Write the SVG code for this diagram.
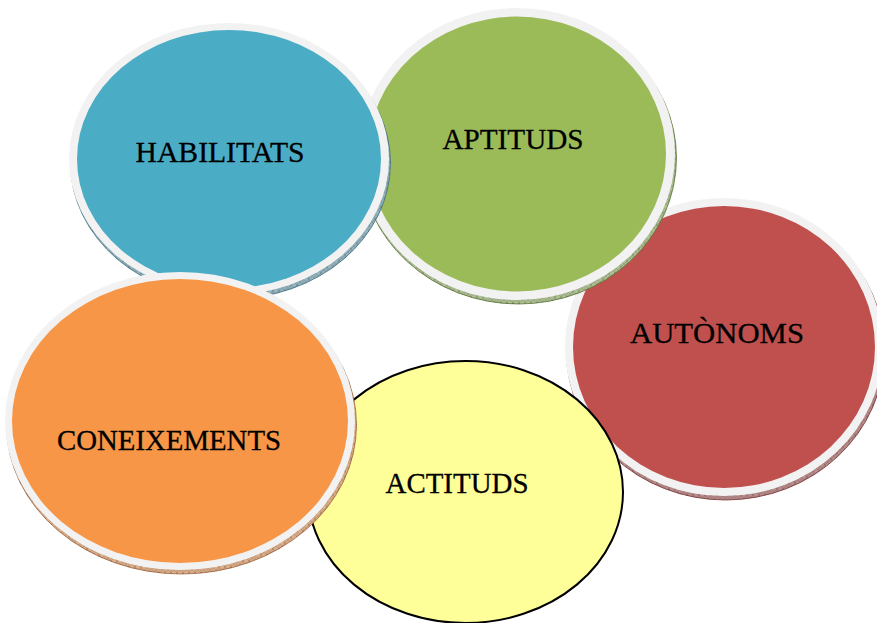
<svg xmlns="http://www.w3.org/2000/svg" width="877" height="623" viewBox="0 0 877 623">
<defs>
<style>
.rim{fill:#F2F2F2}
.lbl{font-family:"Liberation Serif","Times New Roman",serif;font-size:30px;fill:#000;text-anchor:middle;stroke:#000;stroke-width:0.3}
</style>
<pattern id="hatch" width="6" height="6" patternUnits="userSpaceOnUse">
<path d="M0 0 L6 6 M6 0 L0 6 M3 0 V6" stroke="#000" stroke-opacity="0.25" stroke-width="0.5" fill="none"/>
</pattern>
</defs>
<rect width="877" height="623" fill="#fff"/>
<g id="autonoms">
<ellipse cx="725.5" cy="351" rx="159" ry="149" fill="#b88c8b" stroke="#7a2f2d" stroke-width="0.8"/>
<ellipse cx="725.5" cy="351" rx="159" ry="149" fill="url(#hatch)"/>
<ellipse class="rim" cx="724" cy="347" rx="159" ry="149"/>
<ellipse cx="724" cy="347" rx="151" ry="141" fill="#C0504D"/>
<text class="lbl" x="717" y="343" textLength="174" lengthAdjust="spacingAndGlyphs">AUTÒNOMS</text>
</g>
<g id="aptituds">
<ellipse cx="518.5" cy="158" rx="158" ry="146" fill="#aebf93" stroke="#5b7332" stroke-width="0.8"/>
<ellipse cx="518.5" cy="158" rx="158" ry="146" fill="url(#hatch)"/>
<ellipse class="rim" cx="517" cy="154" rx="158" ry="146"/>
<ellipse cx="517" cy="154" rx="149" ry="137.5" fill="#9BBB59"/>
<text class="lbl" x="513" y="149" textLength="141" lengthAdjust="spacingAndGlyphs">APTITUDS</text>
</g>
<g id="habilitats">
<ellipse cx="230.5" cy="163" rx="160" ry="136" fill="#93b4bf" stroke="#3d6f7f" stroke-width="0.8"/>
<ellipse cx="230.5" cy="163" rx="160" ry="136" fill="url(#hatch)"/>
<ellipse class="rim" cx="229" cy="159" rx="160" ry="136"/>
<ellipse cx="229" cy="159" rx="152" ry="129" fill="#4BACC6"/>
<text class="lbl" x="220" y="162" textLength="169" lengthAdjust="spacingAndGlyphs">HABILITATS</text>
</g>
<g id="actituds">
<ellipse cx="465.5" cy="492" rx="157.5" ry="131" fill="#FFFF99" stroke="#000" stroke-width="2"/>
<text class="lbl" x="457" y="493" textLength="143" lengthAdjust="spacingAndGlyphs">ACTITUDS</text>
</g>
<g id="coneixements">
<ellipse cx="181.5" cy="425" rx="175" ry="149" fill="#dcae8a" stroke="#a0623a" stroke-width="0.8"/>
<ellipse cx="181.5" cy="425" rx="175" ry="149" fill="url(#hatch)"/>
<ellipse class="rim" cx="180" cy="421" rx="175" ry="149"/>
<ellipse cx="180" cy="421" rx="168" ry="142" fill="#F79646"/>
<text class="lbl" x="169" y="450" textLength="224" lengthAdjust="spacingAndGlyphs">CONEIXEMENTS</text>
</g>
<g id="connectors"></g>
</svg>
